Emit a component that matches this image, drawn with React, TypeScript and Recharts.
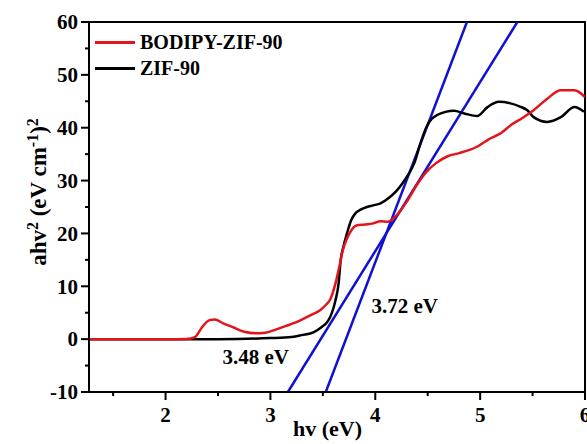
import * as React from "react"
import { LineChart, Line, XAxis, YAxis, ReferenceArea, ReferenceDot, Legend } from "recharts"

// [hv (eV), (ahv)^2]
const bodipyZif90: [number, number][] = [
  [1.27, 0], [2.0, 0], [2.2, 0.05], [2.28, 0.4], [2.35, 2.3], [2.42, 3.6], [2.47, 3.7],
  [2.55, 3.0], [2.65, 2.2], [2.75, 1.4], [2.87, 1.1], [2.95, 1.2], [3.05, 1.8], [3.15, 2.5],
  [3.28, 3.5], [3.38, 4.5], [3.47, 5.4], [3.53, 6.5], [3.57, 7.5], [3.62, 10.5], [3.66, 14],
  [3.69, 16.8], [3.73, 19], [3.76, 20.2], [3.82, 21.5], [3.9, 21.7], [3.98, 21.9], [4.05, 22.3],
  [4.12, 22.2], [4.18, 23], [4.22, 23.8], [4.3, 26], [4.4, 29.3], [4.49, 31.7], [4.58, 33.3],
  [4.69, 34.6], [4.8, 35.2], [4.9, 35.8], [4.97, 36.4], [5.05, 37.4], [5.1, 38.0], [5.2, 39.0],
  [5.3, 40.6], [5.4, 41.8], [5.51, 43.3], [5.64, 45.5], [5.77, 47.1], [5.9, 47.1], [6.0, 45.8],
]

const zif90: [number, number][] = [
  [1.27, 0], [2.5, 0], [3.0, 0.2], [3.2, 0.4], [3.28, 0.7], [3.41, 1.3], [3.49, 2.3],
  [3.54, 3.2], [3.57, 4.2], [3.6, 5.8], [3.62, 7.3], [3.65, 10.5], [3.67, 14.9], [3.7, 17.8],
  [3.73, 20.0], [3.77, 22.5], [3.81, 23.8], [3.86, 24.5], [3.92, 25.0], [3.98, 25.3], [4.05, 25.7],
  [4.14, 26.9], [4.2, 28.0], [4.26, 29.5], [4.32, 31.3], [4.37, 33.2], [4.43, 37], [4.49, 40.2],
  [4.54, 41.7], [4.59, 42.4], [4.67, 43.0], [4.75, 43.2], [4.85, 42.7], [4.97, 42.2], [5.07, 43.9],
  [5.18, 44.9], [5.29, 44.6], [5.38, 44], [5.45, 43.3], [5.51, 42], [5.64, 41.1], [5.77, 42],
  [5.9, 43.9], [5.99, 43],
]

// tangent lines (end points at the plot's y limits)
const fit348: [number, number][] = [[3.167, -10], [5.355, 60]]
const fit372: [number, number][] = [[3.528, -10], [4.874, 60]]

const xTicks = [1.5, 2, 2.5, 3, 3.5, 4, 4.5, 5, 5.5, 6]
const yTicks = [-10, -5, 0, 5, 10, 15, 20, 25, 30, 35, 40, 45, 50, 55, 60]

const legendItems = [
  { name: "BODIPY-ZIF-90", color: "#e3141b" },
  { name: "ZIF-90", color: "#000000" },
]

const toRows = (pts: [number, number][]) => pts.map(([x, y]) => ({ x, y }))

const font = "'Liberation Serif', 'Times New Roman', serif"

const renderYTick = (props: any) => {
  const { x, y, payload } = props
  const major = payload.value % 10 === 0
  return (
    <g key={`y-${payload.value}`}>
      <line x1={x} x2={x - (major ? 8 : 4)} y1={y} y2={y} stroke="#000" strokeWidth={2} />
      {major && (
        <text x={x - 11} y={y} dy="0.35em" textAnchor="end" fontSize={21} fontWeight="bold" fontFamily={font} fill="#000">
          {payload.value}
        </text>
      )}
    </g>
  )
}

const renderXTick = (props: any) => {
  const { x, y, payload } = props
  const major = Number.isInteger(payload.value)
  return (
    <g key={`x-${payload.value}`}>
      <line x1={x} x2={x} y1={y} y2={y + (major ? 8 : 4)} stroke="#000" strokeWidth={2} />
      {major && (
        <text x={x} y={y + 30} textAnchor="middle" fontSize={21} fontWeight="bold" fontFamily={font} fill="#000">
          {payload.value}
        </text>
      )}
    </g>
  )
}

const renderLegend = () => (
  <div style={{ fontFamily: font, fontWeight: "bold", fontSize: 20 }}>
    {legendItems.map((item) => (
      <div key={item.name} style={{ display: "flex", alignItems: "center", height: 26 }}>
        <div style={{ width: 40, height: 3, background: item.color, marginRight: 5 }} />
        <span style={{ lineHeight: "26px" }}>{item.name}</span>
      </div>
    ))}
  </div>
)

export default function App() {
  return (
    <div style={{ width: 587, height: 444, position: "relative", background: "#fff", fontFamily: font }}>
      <style>{`body{margin:0}`}</style>
      <LineChart width={587} height={444} margin={{ top: 22, right: 2, bottom: 0, left: 0 }}>
        <XAxis
          type="number"
          dataKey="x"
          domain={[1.27, 6]}
          ticks={xTicks}
          allowDataOverflow
          height={52}
          tickSize={0}
          tickMargin={0}
          tickLine={false}
          tick={renderXTick}
          interval={0}
          axisLine={{ stroke: "#000", strokeWidth: 2 }}
        />
        <YAxis
          type="number"
          domain={[-10, 60]}
          ticks={yTicks}
          allowDataOverflow
          width={89}
          tickSize={0}
          tickMargin={0}
          tickLine={false}
          tick={renderYTick}
          interval={0}
          axisLine={{ stroke: "#000", strokeWidth: 2 }}
        />
        <ReferenceArea x1={1.27} x2={6} y1={-10} y2={60} fill="none" stroke="#000" strokeWidth={2} ifOverflow="visible" />
        <Line data={toRows(fit348)} dataKey="y" type="linear" stroke="#1010d0" strokeWidth={2.5} dot={false} isAnimationActive={false} legendType="none" />
        <Line data={toRows(fit372)} dataKey="y" type="linear" stroke="#1010d0" strokeWidth={2.5} dot={false} isAnimationActive={false} legendType="none" />
        <Line data={toRows(zif90)} dataKey="y" type="monotone" stroke="#000000" strokeWidth={2.5} dot={false} isAnimationActive={false} />
        <Line data={toRows(bodipyZif90)} dataKey="y" type="monotone" stroke="#e3141b" strokeWidth={2.5} dot={false} isAnimationActive={false} />
        <ReferenceDot x={2.86} y={-3.3} r={0} ifOverflow="visible"
          label={{ value: "3.48 eV", position: "center", fontSize: 21, fontWeight: "bold", fontFamily: font, fill: "#000" }} />
        <ReferenceDot x={4.28} y={6.4} r={0} ifOverflow="visible"
          label={{ value: "3.72 eV", position: "center", fontSize: 21, fontWeight: "bold", fontFamily: font, fill: "#000" }} />
        <Legend layout="vertical" align="center" verticalAlign="middle" content={renderLegend}
          wrapperStyle={{ left: 95, top: 29, width: "auto" }} />
      </LineChart>
      {/* axis titles */}
      <div style={{ position: "absolute", left: 293, top: 416, fontSize: 22, fontWeight: "bold", whiteSpace: "nowrap" }}>
        hv (eV)
      </div>
      <div style={{ position: "absolute", left: 38, top: 192, transform: "translate(-50%, -50%) rotate(-90deg)", fontSize: 23, fontWeight: "bold", whiteSpace: "nowrap" }}>
        ahv<sup style={{ fontSize: 16 }}>2</sup> (eV cm<sup style={{ fontSize: 16 }}>-1</sup>)<sup style={{ fontSize: 16 }}>2</sup>
      </div>
    </div>
  )
}
